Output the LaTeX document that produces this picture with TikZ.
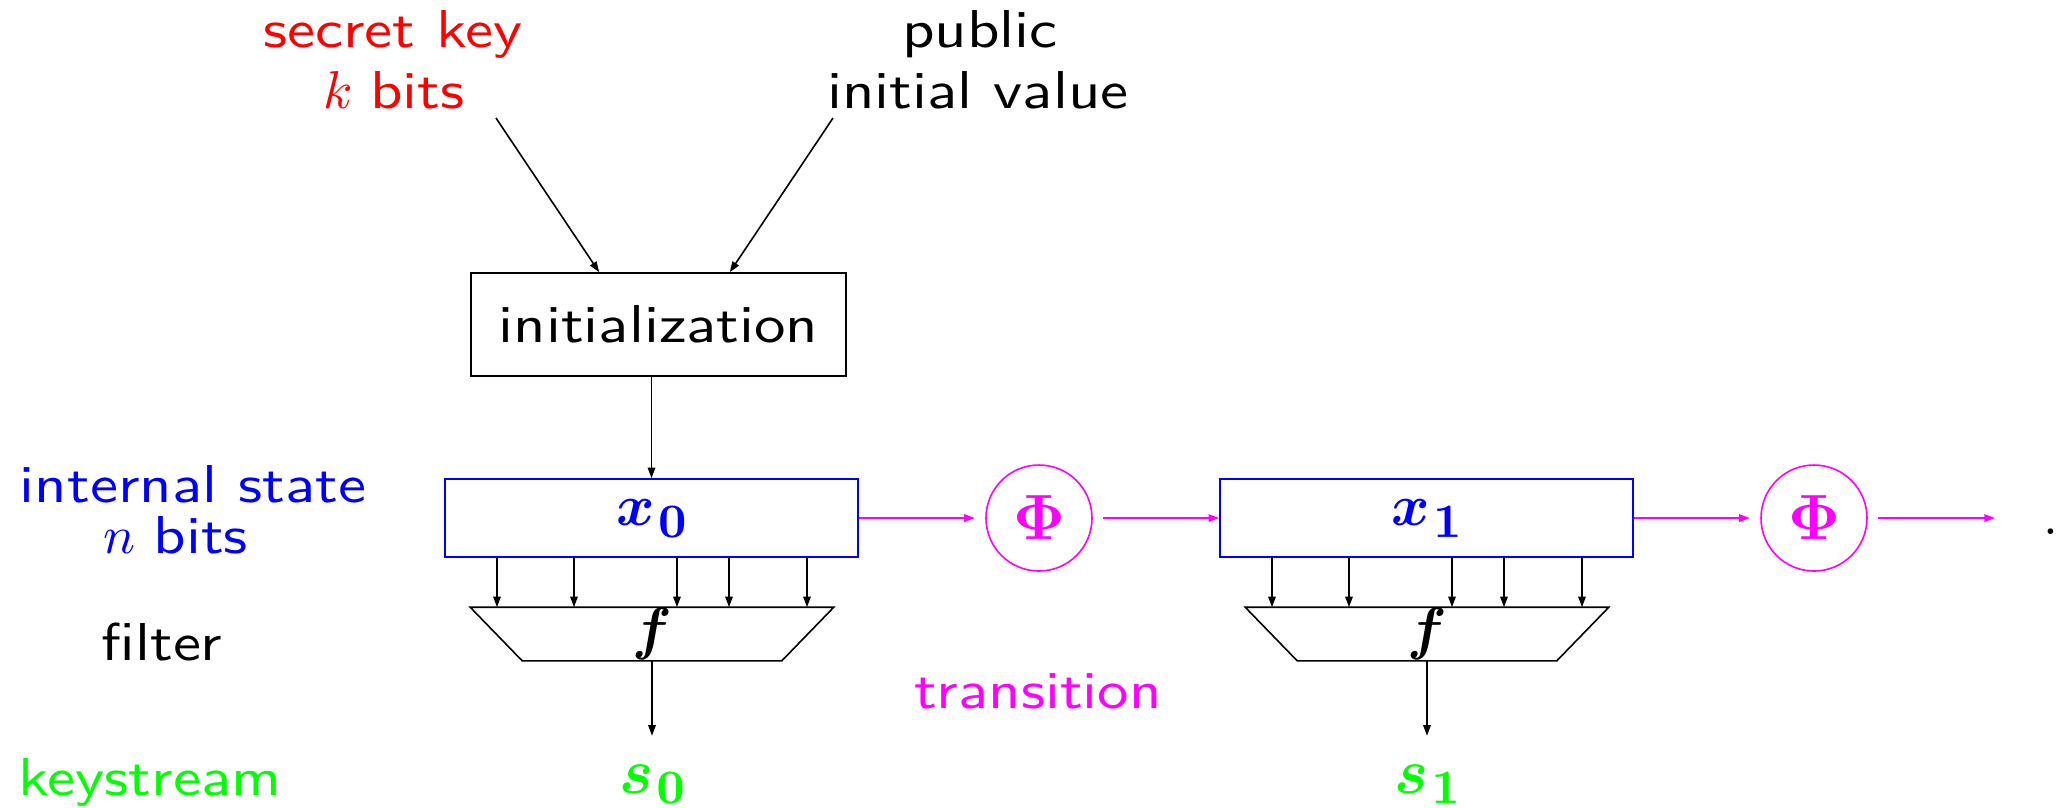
\documentclass[tikz,border=0pt]{standalone}
\usepackage{bm}
\usepackage{graphicx}
\usetikzlibrary{arrows.meta}

\definecolor{keyred}{rgb}{1,0,0}
\definecolor{stateblue}{rgb}{0,0,1}
\definecolor{transmag}{rgb}{1,0,1}
\definecolor{outgreen}{rgb}{0,1,0}

% one drawing unit
\newcommand{\px}{0.18762pt}
% widened sans words
\newcommand{\wide}[1]{\scalebox{1.18}[1]{#1}}
% bold state/output symbol with a large lowered index
\newcommand{\statevar}[4]{{\fontsize{#3}{#3}\selectfont$\bm{#1}$}\kern0.6pt\raisebox{-#4}{\fontsize{9}{10}\selectfont$\mathbf{#2}$}}

\begin{document}
\begin{tikzpicture}[x=\px, y=-\px, line width=0.3pt,
  every node/.style={inner sep=0pt},
  lbl/.style={anchor=base, font=\sffamily},
  conn/.style={-{Triangle[length=2pt,width=1.4pt]}},
  trans/.style={conn, draw=transmag},
  statebox/.style={draw=stateblue, text=stateblue, minimum width=413*\px, minimum height=78*\px},
  phibox/.style={circle, draw=transmag, text=transmag, minimum size=106*\px, outer sep=2.1pt,
                 font=\fontsize{12}{12}\selectfont}]

\useasboundingbox (0,0) rectangle (2056,807);

% inputs of the initialization
\node[lbl, text=keyred] (keyA) at (393,47) {\wide{secret key}};
\node[lbl, text=keyred] (keyB) at (394,108) {$k$ \wide{bits}};
\node[lbl] (ivA) at (980,47) {\wide{public}};
\node[lbl] (ivB) at (978,108) {\wide{initial value}};
\coordinate (keyout) at (496,118);
\coordinate (ivout) at (833,118);

\node[draw, minimum width=375*\px, minimum height=103*\px, font=\sffamily] (init) at (658.5,324.5) {\wide{initialization}};
\draw[conn] (keyout) -- ([xshift=129*\px]init.north west);
\draw[conn] (ivout) -- ([xshift=-117*\px]init.north east);

% row labels
\node[lbl, text=stateblue] (lstate) at (193,502) {\wide{internal state}};
\node[lbl, text=stateblue] (lbits) at (176,553) {$n$ \wide{bits}};
\node[lbl] (lfilter) at (162,660) {\wide{filter}};
\node[lbl, text=outgreen] (lkey) at (150,795) {\wide{keystream}};
\node[lbl, text=transmag] (ltrans) at (1038,708) {\wide{transition}};

% two clock steps: state, filter, output
\foreach \i/\xo in {0/0, 1/775} {
  \node[statebox] (x\i) at (651.5+\xo,518) {\statevar{x}{\i}{10.95}{2.25pt}};
  \node[minimum width=362*\px, minimum height=52*\px, font=\fontsize{10.95}{11}\selectfont] (f\i) at (652+\xo,634) {$\bm{f}$};
  \draw (f\i.north west) -- (f\i.north east) -- ([xshift=-52*\px]f\i.south east)
        -- ([xshift=52*\px]f\i.south west) -- cycle;
  \foreach \t in {-154.5,-77.5,25.5,77.5,155.5}
    \draw[conn] ([xshift=\t*\px]x\i.south) coordinate (tp) -- (tp |- f\i.north);
  \node[anchor=base, text=outgreen] (s\i) at (652+\xo,793) {\statevar{s}{\i}{12}{1.9pt}};
  \draw[conn] (f\i.south) -- ([yshift=5.25pt]s\i.north);
}

\draw[conn] (init.south -| x0.north) -- (x0.north);

% transitions
\node[phibox] (phi0) at (1039,518) {$\bm{\Phi}$};
\node[phibox] (phi1) at (1814,518) {$\bm{\Phi}$};
\coordinate (next) at (1995,518);
\draw[trans] (x0.east) -- (phi0.west);
\draw[trans] (phi0.east) -- (x1.west);
\draw[trans] (x1.east) -- (phi1.west);
\draw[trans] (phi1.east) -- (next);
\node[anchor=base west] (more) at (2043,534) {.};

\end{tikzpicture}
\end{document}
